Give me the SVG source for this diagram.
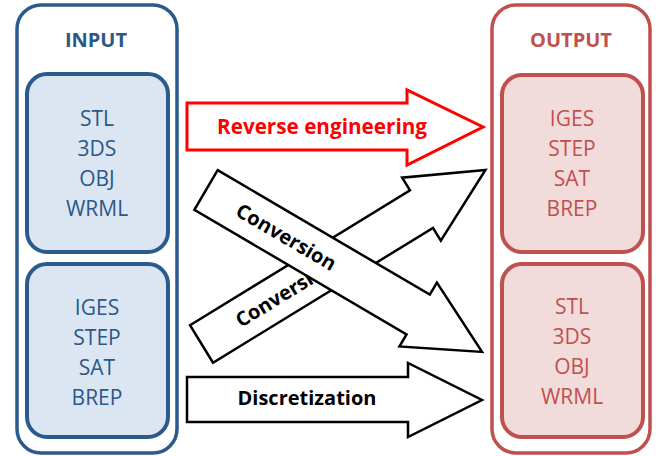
<svg xmlns="http://www.w3.org/2000/svg" width="656" height="456" viewBox="0 0 656 456">
<style>
.outerIn{fill:#ffffff;stroke:#2b5a8c;stroke-width:3.5}
.innerIn{fill:#dce6f2;stroke:#2b5a8c;stroke-width:4}
.outerOut{fill:#ffffff;stroke:#c0504d;stroke-width:3.5}
.innerOut{fill:#f2dcdb;stroke:#c0504d;stroke-width:4}
.tIn{font-family:"Open Sans","Liberation Sans",sans-serif;font-size:21px;fill:#2a5888;text-anchor:middle}
.tOut{font-family:"Open Sans","Liberation Sans",sans-serif;font-size:21px;fill:#c0504d;text-anchor:middle}
.title{font-weight:bold;font-size:20px}
.arrow{fill:#ffffff;stroke:#000000;stroke-width:2.5;stroke-linejoin:miter}
.arrowRed{fill:#ffffff;stroke:#ff0000;stroke-width:3;stroke-linejoin:miter}
.lbl{font-family:"Open Sans","Liberation Sans",sans-serif;font-size:20px;font-weight:bold;fill:#000000}
</style>
<rect width="656" height="456" fill="#ffffff"/>
<g id="input">
  <rect class="outerIn" x="17" y="5" width="160" height="448" rx="24"/>
  <text class="tIn title" x="96" y="47">INPUT</text>
</g>
<g id="input-mesh">
  <rect class="innerIn" x="27" y="74" width="141" height="178" rx="20"/>
  <text class="tIn" x="97" y="126">STL</text>
  <text class="tIn" x="97" y="156">3DS</text>
  <text class="tIn" x="97" y="186">OBJ</text>
  <text class="tIn" x="97" y="216">WRML</text>
</g>
<g id="input-cad">
  <rect class="innerIn" x="27" y="264" width="141" height="173" rx="20"/>
  <text class="tIn" x="97" y="315">IGES</text>
  <text class="tIn" x="97" y="345">STEP</text>
  <text class="tIn" x="97" y="375">SAT</text>
  <text class="tIn" x="97" y="405">BREP</text>
</g>
<g id="output">
  <rect class="outerOut" x="492" y="5" width="158" height="448" rx="24"/>
  <text class="tOut title" x="571" y="47">OUTPUT</text>
</g>
<g id="output-cad">
  <rect class="innerOut" x="502" y="75" width="141" height="177" rx="20"/>
  <text class="tOut" x="572" y="126">IGES</text>
  <text class="tOut" x="572" y="156">STEP</text>
  <text class="tOut" x="572" y="186">SAT</text>
  <text class="tOut" x="572" y="216">BREP</text>
</g>
<g id="output-mesh">
  <rect class="innerOut" x="502" y="264" width="141" height="173" rx="20"/>
  <text class="tOut" x="572" y="314">STL</text>
  <text class="tOut" x="572" y="344">3DS</text>
  <text class="tOut" x="572" y="374">OBJ</text>
  <text class="tOut" x="572" y="404">WRML</text>
</g>
<g id="connectors">
  <g id="reverse-engineering">
    <path class="arrowRed" d="M187,103 L407,103 L407,90 L483,127 L407,165 L407,150 L187,150 Z"/>
    <text class="lbl" x="322" y="134" style="fill:#ff0000;font-size:20.7px" text-anchor="middle">Reverse engineering</text>
  </g>
  <g id="conversion-up" transform="translate(201.5,344) rotate(-31.5)">
    <path class="arrow" d="M0,-22 L258,-22 L258,-37 L333,0 L258,37 L258,22 L0,22 Z"/>
    <text class="lbl" x="42" y="7">Conversion</text>
  </g>
  <g id="conversion-down" transform="translate(206,190) rotate(30.4)">
    <path class="arrow" d="M0,-23 L246,-23 L246,-37 L320,0 L246,37 L246,23 L0,23 Z"/>
    <text class="lbl" x="37" y="7">Conversion</text>
  </g>
  <g id="discretization">
    <path class="arrow" d="M187,377 L408,377 L408,363 L482,400 L408,437 L408,422 L187,422 Z"/>
    <text class="lbl" x="307" y="405" text-anchor="middle">Discretization</text>
  </g>
</g>
</svg>
